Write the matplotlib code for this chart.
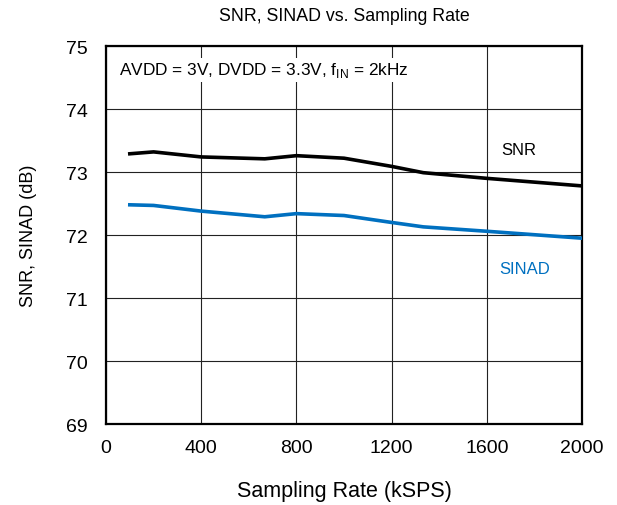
import matplotlib
matplotlib.use('Agg')
import matplotlib.pyplot as plt

plt.rcParams['font.family'] = ['Liberation Sans', 'DejaVu Sans']

BLUE = '#0070C0'

# Sampling rate (kSPS)
rate = [100, 200, 400, 667, 800, 1000, 1200, 1333, 1600, 2000]
snr = [73.29, 73.32, 73.24, 73.21, 73.26, 73.22, 73.09, 72.99, 72.90, 72.78]
sinad = [72.48, 72.47, 72.38, 72.29, 72.34, 72.31, 72.20, 72.13, 72.06, 71.95]

xticks = [0, 400, 800, 1200, 1600, 2000]
yticks = [69, 70, 71, 72, 73, 74, 75]

fig = plt.figure(figsize=(6.17, 5.06), dpi=100)
ax = fig.add_axes([0.1718, 0.160, 0.7715, 0.747])

ax.plot(rate, snr, color='black', linewidth=2.6, zorder=3)
ax.plot(rate, sinad, color=BLUE, linewidth=2.6, zorder=3)

ax.set_xlim(0, 2000)
ax.set_ylim(69, 75)
ax.set_xticks(xticks)
ax.set_yticks(yticks)
ax.grid(True, color='#222222', linewidth=0.8, zorder=1)
ax.tick_params(length=0, labelsize=14)
ax.tick_params(axis='x', pad=11)
ax.tick_params(axis='y', pad=13)
for sp in ax.spines.values():
    sp.set_linewidth(1.6)

ax.set_xlabel('Sampling Rate (kSPS)', fontsize=15.5, labelpad=17)
ax.set_ylabel('SNR, SINAD (dB)', fontsize=13, labelpad=21)
ax.set_title('SNR, SINAD vs. Sampling Rate', fontsize=12.8, pad=19)

ax.text(1735, 73.36, 'SNR', fontsize=12, color='black', ha='center', va='center')
ax.text(1760, 71.47, 'SINAD', fontsize=12, color=BLUE, ha='center', va='center')
ax.text(55, 74.62, 'AVDD = 3V, DVDD = 3.3V, f$_{\\mathregular{IN}}$ = 2kHz', fontsize=12.4,
        ha='left', va='center', zorder=4,
        bbox=dict(facecolor='white', edgecolor='none', pad=2))

fig.savefig('out.png', dpi=100, facecolor='white')
